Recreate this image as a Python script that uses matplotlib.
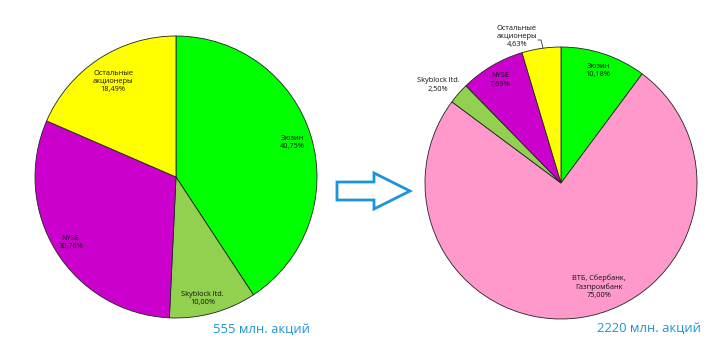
import numpy as np
import matplotlib.pyplot as plt
from matplotlib.patches import Polygon

plt.rcParams['font.family'] = ['Open Sans', 'DejaVu Sans']

# before: 555 mln shares
left_labels = ['Зюзин', 'Skyblock ltd.', 'NYSE', 'Остальные\nакционеры']
left_values = [40.75, 10.00, 30.76, 18.49]
left_colors = ['#00FF00', '#92D050', '#CC00CC', '#FFFF00']
left_dist = [0.86, 0.88, 0.88, 0.81]
left_shift = [0, -3, 0, 0]   # degrees, label nudge

# after: 2220 mln shares
right_labels = ['Зюзин', 'ВТБ, Сбербанк,\nГазпромбанк', 'Skyblock ltd.', 'NYSE', 'Остальные\nакционеры']
right_values = [10.18, 75.00, 2.50, 7.69, 4.63]
right_colors = ['#00FF00', '#FF99CC', '#92D050', '#CC00CC', '#FFFF00']
right_dist = [0.87, 0.81, 1.155, 0.88, 1.125]
right_shift = [0, 11.6, 2.5, 0, 8.4]

W, H = 720, 346
fig = plt.figure(figsize=(W / 100, H / 100), dpi=100)
ax = fig.add_axes([0, 0, 1, 1])
ax.axis('off')


def fmt(v):
    return ('%.2f%%' % v).replace('.', ',')


def draw_pie(values, labels, colors, dists, shifts, cx, cy, r):
    wedges, _ = ax.pie(values, colors=colors, startangle=90, counterclock=False,
                       center=(cx, cy), radius=r, frame=True,
                       wedgeprops=dict(edgecolor='#222222', linewidth=0.6))
    for w, lab, v, d, s in zip(wedges, labels, values, dists, shifts):
        ang = np.deg2rad((w.theta1 + w.theta2) / 2 + s)
        x = cx + d * r * np.cos(ang)
        y = cy + d * r * np.sin(ang)
        ax.text(x, y, lab + '\n' + fmt(v), ha='center', va='center',
                fontsize=5.3, color='#111111', linespacing=1.25)
    return wedges


draw_pie(left_values, left_labels, left_colors, left_dist, left_shift, 176, H - 177, 141)
draw_pie(right_values, right_labels, right_colors, right_dist, right_shift, 561, H - 183, 136)

# leader line for the small slice
ax.plot([538, 541, 543], [H - 40, H - 40, H - 48], color='#333333', lw=0.6)

ax.set_xlim(0, W)
ax.set_ylim(0, H)
ax.set_aspect('auto')

# arrow
arrow = [(337, 182), (374, 182), (374, 173), (410, 191), (374, 209), (374, 200), (337, 200)]
ax.add_patch(Polygon([(x, H - y) for x, y in arrow], closed=True, fill=False,
                     edgecolor='#1B95D9', linewidth=2, joinstyle='miter'))

ax.text(213, H - 329, '555 млн. акций', color='#1B95D9', fontsize=9.4,
        ha='left', va='center')
ax.text(597, H - 328, '2220 млн. акций', color='#1B95D9', fontsize=9.4,
        ha='left', va='center')

fig.savefig('out.png', dpi=100, facecolor='white')
